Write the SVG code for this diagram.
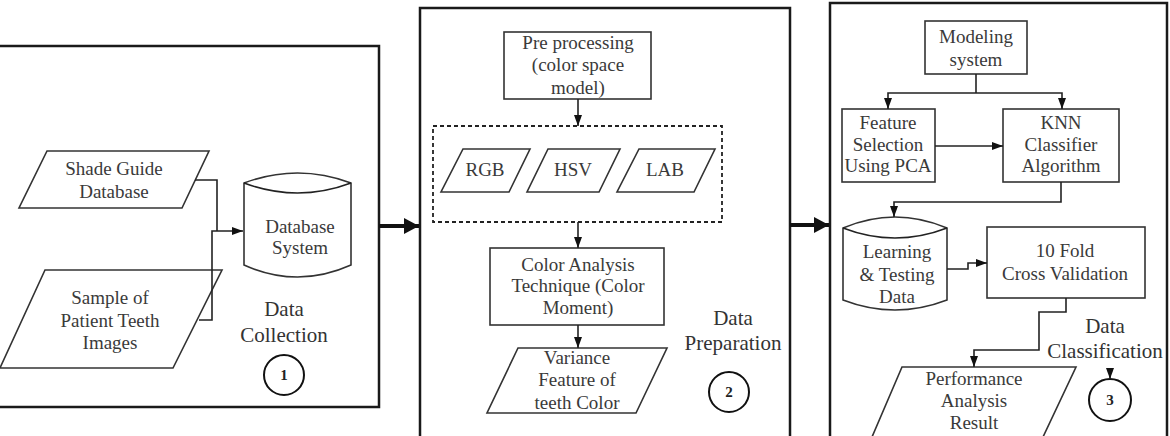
<svg xmlns="http://www.w3.org/2000/svg" width="1170" height="436" viewBox="0 0 1170 436">
<style>
.panel{fill:none;stroke:#1a1a1a;stroke-width:2.5}
.box{fill:#fff;stroke:#333;stroke-width:1.6}
.dash{fill:none;stroke:#222;stroke-width:1.8;stroke-dasharray:4,3}
.t{font-family:"Liberation Serif","Times New Roman",serif;font-size:19px;fill:#3a3a3a;text-anchor:middle}
.lbl{font-family:"Liberation Serif","Times New Roman",serif;font-size:21px;fill:#333;text-anchor:middle}
.num{font-family:"Liberation Serif","Times New Roman",serif;font-size:15px;font-weight:bold;fill:#222;text-anchor:middle}
.c{fill:none;stroke:#222;stroke-width:1.6}
.big{fill:none;stroke:#111;stroke-width:4}
.circ{fill:#fff;stroke:#111;stroke-width:2}
</style>
<defs>
<marker id="ah" markerUnits="userSpaceOnUse" markerWidth="12" markerHeight="10" refX="11" refY="5" orient="auto">
<path d="M0,1 L11,5 L0,9 Z" fill="#111"/>
</marker>
<marker id="bh" markerUnits="userSpaceOnUse" markerWidth="16" markerHeight="16" refX="15" refY="8" orient="auto">
<path d="M0,0 L15,8 L0,16 Z" fill="#111"/>
</marker>
</defs>
<rect width="1170" height="436" fill="#fff"/>

<g id="panel1">
<rect class="panel" x="-5" y="46" width="384" height="361"/>
<text class="lbl" x="284" y="316">Data</text>
<text class="lbl" x="284" y="342">Collection</text>
<circle class="circ" cx="284" cy="375" r="20"/>
<text class="num" x="284" y="380">1</text>
</g>
<g id="shade-guide">
<polygon class="box" points="47,151 209,151 182,208 19,208"/>
<text class="t" x="114" y="175">Shade Guide</text>
<text class="t" x="114" y="198">Database</text>
</g>
<g id="sample">
<polygon class="box" points="45,270 222,270 173,368 0,368"/>
<text class="t" x="110" y="304">Sample of</text>
<text class="t" x="110" y="327">Patient Teeth</text>
<text class="t" x="110" y="349">Images</text>
</g>
<g id="database">
<path class="box" d="M244,183 Q297.5,163 351,183 L351,265 Q297.5,289 244,265 Z"/>
<path class="c" d="M244,183 Q297.5,203 351,183"/>
<text class="t" x="300" y="233">Database</text>
<text class="t" x="300" y="254">System</text>
</g>

<g id="panel2">
<rect class="panel" x="420" y="8" width="370" height="440"/>
<text class="lbl" x="733" y="325">Data</text>
<text class="lbl" x="733" y="350">Preparation</text>
<circle class="circ" cx="729" cy="392" r="20"/>
<text class="num" x="729" y="397">2</text>
</g>
<g id="preprocessing">
<rect class="box" x="504" y="32" width="147" height="67"/>
<text class="t" x="578" y="49">Pre processing</text>
<text class="t" x="578" y="71">(color space</text>
<text class="t" x="578" y="94">model)</text>
</g>
<g id="color-spaces">
<rect class="dash" x="433" y="126" width="289" height="96"/>
</g>
<g id="rgb">
<polygon class="box" points="463,149 530,149 509,192 441,192"/>
<text class="t" x="485" y="176">RGB</text>
</g>
<g id="hsv">
<polygon class="box" points="548,149 620,149 599,192 527,192"/>
<text class="t" x="573" y="176">HSV</text>
</g>
<g id="lab">
<polygon class="box" points="639,149 715,149 694,192 617,192"/>
<text class="t" x="665" y="176">LAB</text>
</g>
<g id="color-analysis">
<rect class="box" x="490" y="248" width="174" height="77"/>
<text class="t" x="578" y="271">Color Analysis</text>
<text class="t" x="578" y="292">Technique (Color</text>
<text class="t" x="578" y="314">Moment)</text>
</g>
<g id="variance">
<polygon class="box" points="518,348 667,348 636,413 487,413"/>
<text class="t" x="577" y="364">Variance</text>
<text class="t" x="577" y="386">Feature of</text>
<text class="t" x="577" y="409">teeth Color</text>
</g>

<g id="panel3">
<rect class="panel" x="830" y="3" width="337" height="445"/>
<text class="lbl" x="1105" y="333">Data</text>
<text class="lbl" x="1105" y="358">Classification</text>
<circle class="circ" cx="1110" cy="400" r="21"/>
<text class="num" x="1110" y="405">3</text>
</g>
<g id="modeling">
<rect class="box" x="925" y="21" width="102" height="53"/>
<text class="t" x="976" y="43">Modeling</text>
<text class="t" x="976" y="66">system</text>
</g>
<g id="feature-selection">
<rect class="box" x="842" y="109" width="93" height="73"/>
<text class="t" x="888" y="129">Feature</text>
<text class="t" x="888" y="151">Selection</text>
<text class="t" x="888" y="172">Using PCA</text>
</g>
<g id="knn">
<rect class="box" x="1003" y="109" width="116" height="73"/>
<text class="t" x="1061" y="129">KNN</text>
<text class="t" x="1061" y="151">Classifier</text>
<text class="t" x="1061" y="172">Algorithm</text>
</g>
<g id="learning">
<path class="box" d="M843,228 Q895,206 947,228 L947,300 Q895,320 843,300 Z"/>
<path class="c" d="M843,228 Q895,248 947,228"/>
<text class="t" x="897" y="258">Learning</text>
<text class="t" x="897" y="281">&amp; Testing</text>
<text class="t" x="897" y="303">Data</text>
</g>
<g id="cross-validation">
<rect class="box" x="987" y="227" width="158" height="71"/>
<text class="t" x="1065" y="257">10 Fold</text>
<text class="t" x="1065" y="280">Cross Validation</text>
</g>
<g id="performance">
<polygon class="box" points="902,367 1076,367 1043,437 872,437"/>
<text class="t" x="974" y="385">Performance</text>
<text class="t" x="974" y="407">Analysis</text>
<text class="t" x="974" y="429">Result</text>
</g>

<g id="connectors">
<polyline class="c" points="195,180 217,180 217,231"/>
<polyline class="c" points="199,320 212,320 212,231 243,231" marker-end="url(#ah)"/>
<line class="big" x1="379" y1="226" x2="419" y2="226" marker-end="url(#bh)"/>
<line class="c" x1="578" y1="99" x2="578" y2="126" marker-end="url(#ah)"/>
<line class="c" x1="578" y1="222" x2="578" y2="248" marker-end="url(#ah)"/>
<line class="c" x1="578" y1="325" x2="578" y2="348" marker-end="url(#ah)"/>
<line class="big" x1="790" y1="225" x2="829" y2="225" marker-end="url(#bh)"/>
<polyline class="c" points="976,74 976,93"/>
<polyline class="c" points="976,93 888,93 888,109" marker-end="url(#ah)"/>
<polyline class="c" points="976,93 1062,93 1062,109" marker-end="url(#ah)"/>
<line class="c" x1="935" y1="146" x2="1003" y2="146" marker-end="url(#ah)"/>
<polyline class="c" points="1061,182 1061,202 894,202 894,217" marker-end="url(#ah)"/>
<polyline class="c" points="947,269 968,269 968,263 987,263" marker-end="url(#ah)"/>
<polyline class="c" points="1066,298 1066,312 1039,312 1039,350 974,350 974,367" marker-end="url(#ah)"/>
<line class="c" x1="1110" y1="370" x2="1110" y2="379" marker-end="url(#ah)"/>
</g>
</svg>
